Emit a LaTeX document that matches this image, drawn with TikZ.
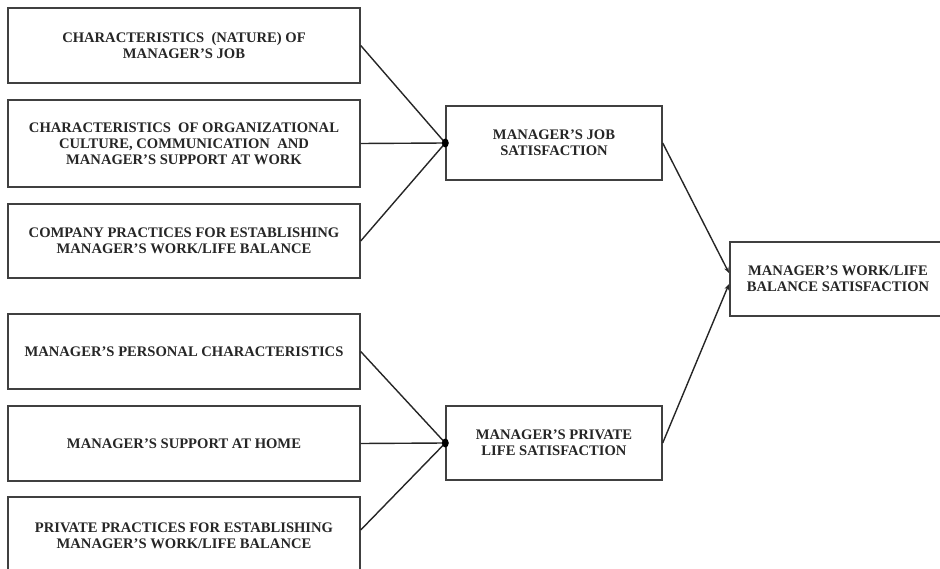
\documentclass[tikz,border=0pt]{standalone}
\usepackage{fontspec}
\setmainfont{Liberation Serif}
\usetikzlibrary{arrows.meta}
\begin{document}
\begin{tikzpicture}[x=1pt,y=-1pt,
  box/.style={draw=black!75, line width=1.4pt, fill=white, inner sep=0pt, align=center,
    font=\fontsize{14.6}{16}\selectfont\bfseries, text=black!85},
  link/.style={draw=black!85, line width=1.4pt},
  arr/.style={link, -{Stealth[length=6pt,width=4.5pt]}}]
\useasboundingbox (0,0) rectangle (940,569);
\node[box, minimum width=352pt, minimum height=75pt] (b1) at (184,45.5) {CHARACTERISTICS \ (NATURE) OF\\MANAGER'S JOB};
\node[box, minimum width=352pt, minimum height=87pt] (b2) at (184,143.5) {CHARACTERISTICS \ OF ORGANIZATIONAL\\CULTURE, COMMUNICATION \ AND\\MANAGER'S SUPPORT AT WORK};
\node[box, minimum width=352pt, minimum height=74pt] (b3) at (184,241) {COMPANY PRACTICES FOR ESTABLISHING\\MANAGER'S WORK/LIFE BALANCE};
\node[box, minimum width=352pt, minimum height=75pt] (b4) at (184,351.5) {MANAGER'S PERSONAL CHARACTERISTICS};
\node[box, minimum width=352pt, minimum height=75pt] (b5) at (184,443.5) {MANAGER'S SUPPORT AT HOME};
\node[box, minimum width=352pt, minimum height=78pt] (b6) at (184,536) {PRIVATE PRACTICES FOR ESTABLISHING\\MANAGER'S WORK/LIFE BALANCE};
\node[box, minimum width=216pt, minimum height=74pt] (job) at (554,143) {MANAGER'S JOB\\SATISFACTION};
\node[box, minimum width=216pt, minimum height=74pt] (priv) at (554,443) {MANAGER'S PRIVATE\\LIFE SATISFACTION};
\node[box, minimum width=216pt, minimum height=74pt] (wlb) at (838,279) {MANAGER'S WORK/LIFE\\BALANCE SATISFACTION};
\coordinate (in1) at (729,273);
\coordinate (in2) at (729,284);
\draw[link] (b1.east) -- (job.west);
\draw[link] (b2.east) -- (job.west);
\draw[link] (b3.east) -- (job.west);
\draw[link] (b4.east) -- (priv.west);
\draw[link] (b5.east) -- (priv.west);
\draw[link] (b6.east |- 0,530) -- (priv.west);
\fill[black] (job.west) ellipse (3.5pt and 4.5pt);
\fill[black] (priv.west) ellipse (3.5pt and 4.5pt);
\draw[arr] (job.east) -- (in1);
\draw[arr] (priv.east) -- (in2);
\end{tikzpicture}
\end{document}
